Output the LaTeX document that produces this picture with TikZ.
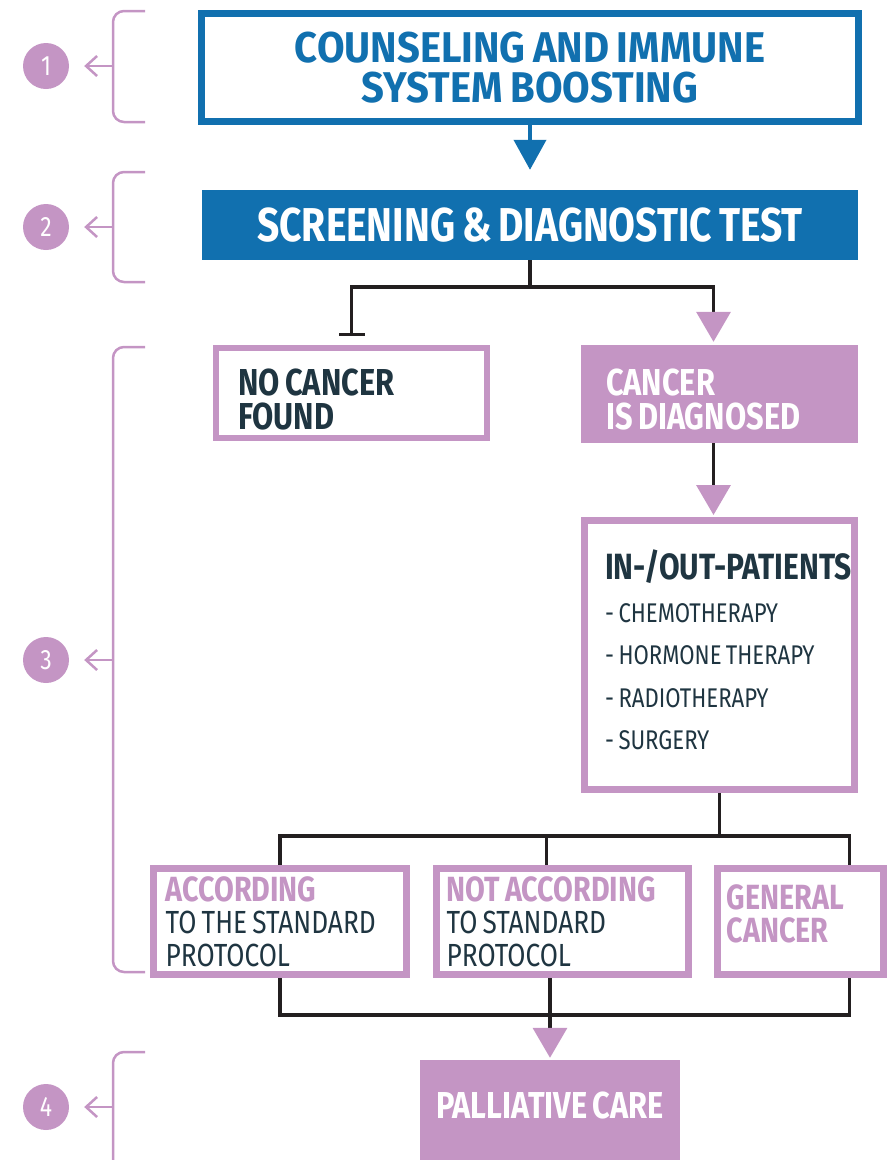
\documentclass[tikz,border=0pt]{standalone}
\usepackage{fontspec}
\setmainfont[FakeStretch=0.82,WordSpace=0.75]{Fira Sans}
\newfontfamily\headfont[FakeStretch=0.93,WordSpace=0.8]{Fira Sans}
\usetikzlibrary{arrows.meta}

\definecolor{cblue}{HTML}{1170AF}
\definecolor{cpurple}{HTML}{C495C4}
\definecolor{cdark}{HTML}{1F3541}
\definecolor{cline}{HTML}{231F20}

\tikzset{
  blueframe/.style={draw=cblue, line width=7pt, fill=white, text=cblue, align=center,
    font=\headfont\bfseries\fontsize{43}{40}\selectfont},
  bluefill/.style={fill=cblue, text=white, font=\bfseries\fontsize{47.5}{50}\selectfont},
  pframe/.style={draw=cpurple, line width=7pt, fill=white},
  pfill/.style={fill=cpurple},
  txt/.style={inner sep=0pt, align=left, text=cdark},
  conn/.style={draw=cline, line width=3.5pt},
  ptip/.style={-{Triangle[width=34pt,length=30pt,color=cpurple]}},
  brace/.style={draw=cpurple, line width=2.5pt, rounded corners=11pt},
  phase/.style={circle, fill=cpurple, text=white, minimum size=46pt, inner sep=0pt,
    font=\fontsize{28}{30}\selectfont},
  hd/.style={font=\bfseries\fontsize{37.5}{34}\selectfont},
  sub/.style={font=\fontsize{32}{32.5}\selectfont},
}

\begin{document}
\begin{tikzpicture}[x=1pt, y=-1pt]
  \useasboundingbox (0,0) rectangle (895,1160);

  % boxes
  \node[blueframe, minimum width=657pt, minimum height=108pt] (couns) at (530,67.5)
    {COUNSELING AND IMMUNE\\SYSTEM BOOSTING};
  \node[bluefill, minimum width=656pt, minimum height=70pt] (screen) at (530,225)
    {SCREENING \& DIAGNOSTIC TEST};

  \node[pframe, line width=6pt, minimum width=271pt, minimum height=90pt] (nocan) at (351.5,393) {};
  \node[txt, hd, anchor=west] (nocan-t) at ([xshift=25pt,yshift=-6pt]nocan.west) {NO CANCER\\FOUND};
  \node[pfill, minimum width=277pt, minimum height=98pt] (cancer) at (719.5,394) {};
  \node[txt, hd, text=white, anchor=west] (cancer-t) at ([xshift=25pt,yshift=-5pt]cancer.west)
    {CANCER\\IS DIAGNOSED};

  \node[pframe, minimum width=270pt, minimum height=269pt] (inout) at (719.5,655) {};
  \node[txt, anchor=north west, font=\fontsize{27}{42.5}\selectfont] (inout-t)
    at ([xshift=24pt,yshift=-33pt]inout.north west)
    {{\bfseries\fontsize{36.5}{40}\selectfont IN-/OUT-PATIENTS}\\
     - CHEMOTHERAPY\\- HORMONE THERAPY\\- RADIOTHERAPY\\- SURGERY};

  \node[pframe, minimum width=253pt, minimum height=106pt] (accyes) at (280,921.5) {};
  \node[txt, sub, anchor=west] (accyes-t) at ([xshift=15.5pt]accyes.west)
    {\textcolor{cpurple}{\bfseries\fontsize{35}{32.5}\selectfont ACCORDING}\\TO THE STANDARD\\PROTOCOL};
  \node[pframe, minimum width=252pt, minimum height=106pt] (accno) at (562.5,921.5) {};
  \node[txt, sub, anchor=west] (accno-t) at ([xshift=13.5pt]accno.west)
    {\textcolor{cpurple}{\bfseries\fontsize{35}{32.5}\selectfont NOT ACCORDING}\\TO STANDARD\\PROTOCOL};
  \node[pframe, minimum width=166pt, minimum height=106pt] (general) at (800.5,921.5) {};
  \node[txt, anchor=west, text=cpurple, font=\bfseries\fontsize{35}{32.5}\selectfont] (general-t)
    at ([xshift=12.5pt,yshift=7.5pt]general.west) {GENERAL\\CANCER};

  \node[pfill, minimum width=260pt, minimum height=105pt] (palli) at (550,1112.5) {};
  \node[txt, hd, text=white] (palli-t) at ([yshift=7pt]palli.center) {PALLIATIVE CARE};

  % connectors
  \draw[cblue, line width=4pt, -{Triangle[width=32pt,length=30pt]}, shorten >=20pt]
    (couns.south) -- (screen.north);
  \coordinate (fork) at (530,287);
  \draw[conn] (screen.south) -- (fork);
  \draw[conn, -{Bar[width=26pt]}, shorten >=9pt] (fork) -| (nocan.north);
  \draw[conn, ptip, shorten >=3pt] (fork) -| ([xshift=-6pt]cancer.north);
  \draw[conn, ptip, shorten >=2pt] ([xshift=-6pt]cancer.south) -- ([xshift=-6pt]inout.north);

  \coordinate (split) at (719.5,836);
  \draw[conn] (inout.south) -- (split);
  \draw[conn] (split) -| (accyes.north);
  \draw[conn] (split) -| ([xshift=-16pt]accno.north);
  \draw[conn] (split) -| ([xshift=49pt]general.north);

  \coordinate (merge) at (550,1015);
  \draw[conn] (accyes.south) |- (merge);
  \draw[conn] ([xshift=-12.5pt]accno.south) -- ([xshift=-12.5pt]accno.south |- merge);
  \draw[conn] ([xshift=49pt]general.south) |- (merge);
  \draw[conn, ptip, shorten >=2pt] (merge) -- (palli.north);

  % phases
  \node[phase] (p1) at (46,66) {1};
  \node[phase] (p2) at (46,227) {2};
  \node[phase] (p3) at (46,660) {3};
  \node[phase] (p4) at (46,1107) {4};

  \draw[brace] (145,11) -| (113,122) -- (145,122);
  \draw[brace] (145,172) -| (113,282) -- (145,282);
  \draw[brace] (145,347) -| (113,972) -- (145,972);
  \draw[brace] (145,1052) -| (113,1165);
  \coordinate (b1) at (113,66);
  \coordinate (b2) at (113,227);
  \coordinate (b3) at (113,660);
  \coordinate (b4) at (113,1107);
  \foreach \i in {1,...,4}
    \draw[cpurple, line width=2.5pt, -{Straight Barb[length=11pt,width=20pt]}, shorten >=15pt]
      (b\i) -- (p\i);
\end{tikzpicture}
\end{document}
